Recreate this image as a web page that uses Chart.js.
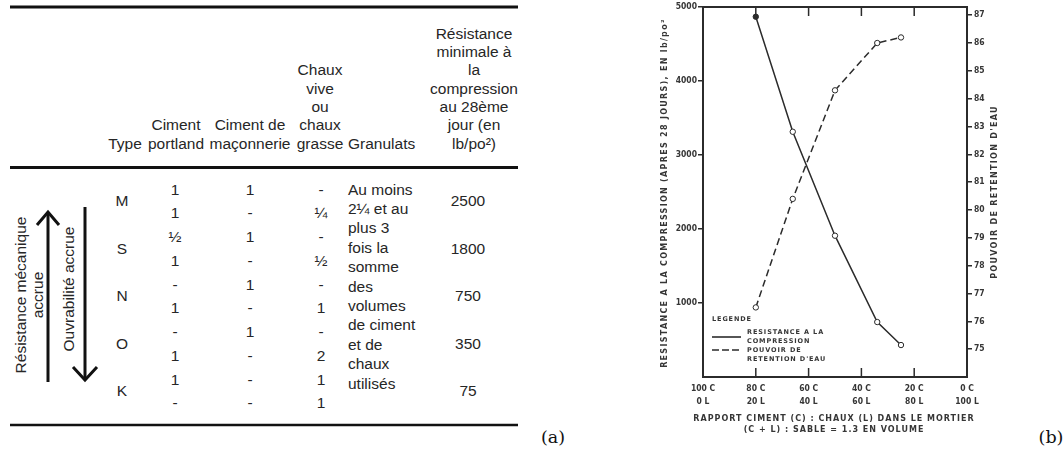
<!DOCTYPE html>
<html><head><meta charset="utf-8">
<script src="https://cdn.jsdelivr.net/npm/chart.js@4.4.1/dist/chart.umd.min.js"></script>
<style>
html,body{margin:0;padding:0;background:#fff;width:1064px;height:453px;overflow:hidden;}
#tbl{position:absolute;left:0;top:0;}
#chartWrap{position:absolute;left:630px;top:0;width:400px;height:453px;}
</style></head><body>
<svg id="tbl" width="1064" height="453" xmlns="http://www.w3.org/2000/svg"></svg>
<div id="chartWrap"><canvas id="c" width="400" height="453"></canvas></div>
<script>
// ---------- (a) table content ----------
const mortarTypes = ['M', 'S', 'N', 'O', 'K'];
const portlandCol = ['1', '1', '½', '1', '-', '1', '-', '1', '1', '-'];
const masonryCol  = ['1', '-', '1', '-', '1', '-', '1', '-', '-', '-'];
const limeCol     = ['-', '¼', '-', '½', '-', '1', '-', '2', '1', '1'];
const minStrength = ['2500', '1800', '750', '350', '75'];
const aggregateLines = ['Au moins', '2¼ et au', 'plus 3', 'fois la', 'somme', 'des', 'volumes', 'de ciment', 'et de', 'chaux', 'utilisés'];
const headType = ['Type'];
const headPortland = ['Ciment', 'portland'];
const headMasonry = ['Ciment de', 'maçonnerie'];
const headLime = ['Chaux', 'vive', 'ou', 'chaux', 'grasse'];
const headAggregate = ['Granulats'];
const headStrength = ['Résistance', 'minimale à', 'la', 'compression', 'au 28ème', 'jour (en', 'lb/po²)'];
const arrowUpLabel = ['Résistance mécanique', 'accrue'];
const arrowDownLabel = ['Ouvrabilité accrue'];

// ---------- (b) chart content ----------
const cementPct = [80, 66, 50, 34, 25];
const compressionPsi = [4870, 3315, 1910, 743, 432];
const waterRetention = [76.5, 80.4, 84.3, 86.0, 86.2];
const xTickValues = [100, 80, 60, 40, 20, 0];
const xTickLabels = [['100 C', '0 L'], ['80 C', '20 L'], ['60 C', '40 L'], ['40 C', '60 L'], ['20 C', '80 L'], ['0 C', '100 L']];
const leftTickValues = [1000, 2000, 3000, 4000, 5000];
const leftTickLabels = ['1000', '2000', '3000', '4000', '5000'];
const rightTickValues = [75, 76, 77, 78, 79, 80, 81, 82, 83, 84, 85, 86, 87];
const rightTickLabels = ['75', '76', '77', '78', '79', '80', '81', '82', '83', '84', '85', '86', '87'];
const leftTitle = 'RESISTANCE A LA COMPRESSION (APRES 28 JOURS), EN lb/po²';
const rightTitle = "POUVOIR DE RETENTION D'EAU";
const xTitle = ['RAPPORT CIMENT (C) : CHAUX (L) DANS LE MORTIER', '(C + L) : SABLE = 1.3 EN VOLUME'];
const legendTitle = 'LEGENDE';
const legendCompression = ['RESISTANCE A LA', 'COMPRESSION'];
const legendRetention = ['POUVOIR DE', "RETENTION D'EAU"];

// ---------- draw table (a) as SVG text ----------
const NS = 'http://www.w3.org/2000/svg';
const svg = document.getElementById('tbl');
const TFONT = '"Liberation Sans", Arial, sans-serif';
const TCOL = '#262626';
function addText(x, y, s, o = {}) {
  const t = document.createElementNS(NS, 'text');
  t.setAttribute('x', o.rot ? 0 : x);
  t.setAttribute('y', o.rot ? 0 : y);
  if (o.rot) t.setAttribute('transform', `translate(${x},${y}) rotate(${o.rot})`);
  t.setAttribute('text-anchor', o.anchor || 'middle');
  t.setAttribute('dominant-baseline', 'central');
  t.setAttribute('font-family', o.family || TFONT);
  t.setAttribute('font-size', o.size || 15.5);
  t.setAttribute('fill', o.color || TCOL);
  t.textContent = s;
  svg.appendChild(t);
}
function addLine(x1, y1, x2, y2, w, c) {
  const l = document.createElementNS(NS, 'line');
  l.setAttribute('x1', x1); l.setAttribute('y1', y1); l.setAttribute('x2', x2); l.setAttribute('y2', y2);
  l.setAttribute('stroke', c || '#111'); l.setAttribute('stroke-width', w);
  svg.appendChild(l);
}
function addPoly(pts, w) {
  const p = document.createElementNS(NS, 'polyline');
  p.setAttribute('points', pts); p.setAttribute('fill', 'none');
  p.setAttribute('stroke', '#111'); p.setAttribute('stroke-width', w);
  p.setAttribute('stroke-linejoin', 'miter');
  svg.appendChild(p);
}
// rules
addLine(10, 7, 518, 7, 3);
addLine(10, 167.5, 518, 167.5, 3);
addLine(10, 425, 518, 425, 2.5);
// header (bottom aligned)
const headBase = 143, headLH = 18.3;
function header(lines, x, anchor) {
  lines.forEach((s, i) => addText(x, headBase - (lines.length - 1 - i) * headLH, s, {anchor}));
}
header(headType, 125);
header(headPortland, 176);
header(headMasonry, 250);
header(headLime, 320);
header(headAggregate, 348, 'start');
header(headStrength, 474);
// body
const rowTop = 189, rowH = 23.75;
portlandCol.forEach((s, i) => addText(175, rowTop + i * rowH, s));
masonryCol.forEach((s, i) => addText(250, rowTop + i * rowH, s));
limeCol.forEach((s, i) => addText(321, rowTop + i * rowH, s));
mortarTypes.forEach((s, i) => addText(122, rowTop + (2 * i + 0.5) * rowH, s));
minStrength.forEach((s, i) => addText(468, rowTop + (2 * i + 0.5) * rowH, s));
aggregateLines.forEach((s, i) => addText(348, 189 + i * 19.4, s, {anchor: 'start'}));
// arrows + rotated labels
addLine(48, 382, 48, 213, 3);
addPoly('37,225 48,212 59,225', 3);
addLine(85, 207, 85, 378, 3);
addPoly('73,367 85,380 97,367', 3);
addText(20, 295, arrowUpLabel[0], {rot: -90});
addText(37, 295, arrowUpLabel[1], {rot: -90});
addText(68, 289, arrowDownLabel[0], {rot: -90});
// panel labels
addText(553, 437, '(a)', {family: '"DejaVu Serif", serif', size: 17.5, color: '#111'});
addText(1051, 437, '(b)', {family: '"DejaVu Serif", serif', size: 17.5, color: '#111'});

// ---------- chart (b) ----------
const INK = '#2b2b2b';
const TXT = '#363636';
const FAM = '"DejaVu Sans", sans-serif';
const CFAM = '"DejaVu Sans Condensed", "DejaVu Sans", sans-serif';

function spacedText(ctx, s, x, y, font, spacing, align) {
  ctx.font = font;
  ctx.letterSpacing = spacing + 'px';
  ctx.textAlign = align || 'center';
  ctx.textBaseline = 'middle';
  ctx.fillText(s, x, y);
}

const extras = {
  id: 'extras',
  beforeDraw(chart) { chart.ctx.letterSpacing = '0px'; },
  afterDraw(chart) {
    const {ctx, chartArea: a, scales: {x}} = chart;
    ctx.save();
    ctx.strokeStyle = INK;
    ctx.lineWidth = 2;
    ctx.beginPath(); ctx.moveTo(a.left - 1, a.top); ctx.lineTo(a.right + 1, a.top); ctx.stroke();
    ctx.lineWidth = 1.5;
    x.ticks.forEach(t => {
      const px = x.getPixelForValue(t.value);
      if (px <= a.left + 2 || px >= a.right - 2) return;
      ctx.beginPath();
      ctx.moveTo(px, a.top); ctx.lineTo(px, a.top + 9);
      ctx.moveTo(px, a.bottom); ctx.lineTo(px, a.bottom - 9);
      ctx.stroke();
    });
    ctx.fillStyle = TXT;
    const titleFont = 'bold 8px ' + FAM;
    const cy = (a.top + a.bottom) / 2;
    // left-axis title (reads upward)
    ctx.save();
    ctx.translate(a.left - 38, cy + 1);
    ctx.rotate(-Math.PI / 2);
    spacedText(ctx, leftTitle, 0, 0, titleFont, 1.3);
    ctx.restore();
    // right-axis title (reads upward)
    ctx.save();
    ctx.translate(a.right + 28, cy);
    ctx.rotate(-Math.PI / 2);
    spacedText(ctx, rightTitle, 0, 0, titleFont, 1.3);
    ctx.restore();
    // x-axis title
    const cx = (a.left + a.right) / 2 - 1;
    spacedText(ctx, xTitle[0], cx, a.bottom + 42, titleFont, 1.0);
    spacedText(ctx, xTitle[1], cx, a.bottom + 53, titleFont, 1.0);
    // legend
    const lx = a.left + 9;
    const lf = 'bold 6.5px ' + FAM;
    spacedText(ctx, legendTitle, lx, a.bottom - 58, lf, 0.9, 'left');
    spacedText(ctx, legendCompression[0], lx + 35, a.bottom - 45, lf, 0.9, 'left');
    spacedText(ctx, legendCompression[1], lx + 35, a.bottom - 36, lf, 0.9, 'left');
    spacedText(ctx, legendRetention[0], lx + 35, a.bottom - 27, lf, 0.9, 'left');
    spacedText(ctx, legendRetention[1], lx + 35, a.bottom - 18, lf, 0.9, 'left');
    ctx.lineWidth = 1.6;
    ctx.beginPath(); ctx.moveTo(lx, a.bottom - 40); ctx.lineTo(lx + 29, a.bottom - 40); ctx.stroke();
    ctx.setLineDash([7, 3]);
    ctx.beginPath(); ctx.moveTo(lx, a.bottom - 27); ctx.lineTo(lx + 29, a.bottom - 27); ctx.stroke();
    ctx.restore();
  }
};

const tickFont = {family: CFAM, size: 8.5, weight: 'bold'};
new Chart(document.getElementById('c'), {
  type: 'line',
  data: {
    datasets: [
      {
        label: legendCompression.join(' '),
        data: cementPct.map((c, i) => ({x: c, y: compressionPsi[i]})),
        yAxisID: 'y',
        borderColor: INK, borderWidth: 1.5,
        pointRadius: 2.7, pointBorderWidth: 1, pointBorderColor: INK,
        pointBackgroundColor: cementPct.map((c, i) => i === 0 ? INK : '#fff'),
        tension: 0
      },
      {
        label: legendRetention.join(' '),
        data: cementPct.map((c, i) => ({x: c, y: waterRetention[i]})),
        yAxisID: 'y1',
        borderColor: INK, borderWidth: 1.5, borderDash: [7, 4],
        pointRadius: 2.7, pointBorderWidth: 1, pointBorderColor: INK,
        pointBackgroundColor: '#fff',
        tension: 0
      }
    ]
  },
  options: {
    responsive: false,
    animation: false,
    layout: {padding: {left: 25, right: 28, top: 7, bottom: 0}},
    plugins: {legend: {display: false}, tooltip: {enabled: false}},
    scales: {
      x: {
        type: 'linear', min: 0, max: 100, reverse: true,
        afterBuildTicks: s => { s.ticks = xTickValues.map(v => ({value: v})); },
        afterFit: s => { s.height = 76; },
        grid: {drawOnChartArea: false, drawTicks: false},
        border: {display: true, color: INK, width: 2},
        ticks: {autoSkip: false, maxRotation: 0, minRotation: 0, padding: 5.5, color: TXT,
                font: {...tickFont, lineHeight: 1.53}, callback: (v, i) => xTickLabels[i]},
        title: {display: false}
      },
      y: {
        type: 'linear', position: 'left', min: 0, max: 5000,
        afterBuildTicks: s => { s.ticks = leftTickValues.map(v => ({value: v})); },
        afterFit: s => { s.width = 48; },
        grid: {drawOnChartArea: false, drawTicks: true, tickLength: 5, color: INK, lineWidth: 1.5},
        border: {display: true, color: INK, width: 2},
        ticks: {padding: 1, color: TXT, font: tickFont, callback: (v, i) => leftTickLabels[i]},
        title: {display: false}
      },
      y1: {
        type: 'linear', position: 'right', min: 74, max: 87.29,
        afterBuildTicks: s => { s.ticks = rightTickValues.map(v => ({value: v})); },
        afterFit: s => { s.width = 35; },
        grid: {drawOnChartArea: false, drawTicks: true, tickLength: 5, color: INK, lineWidth: 1.5},
        border: {display: true, color: INK, width: 2},
        ticks: {padding: 2, color: TXT, font: tickFont, callback: (v, i) => rightTickLabels[i]},
        title: {display: false}
      }
    }
  },
  plugins: [extras]
});
</script>
</body></html>
